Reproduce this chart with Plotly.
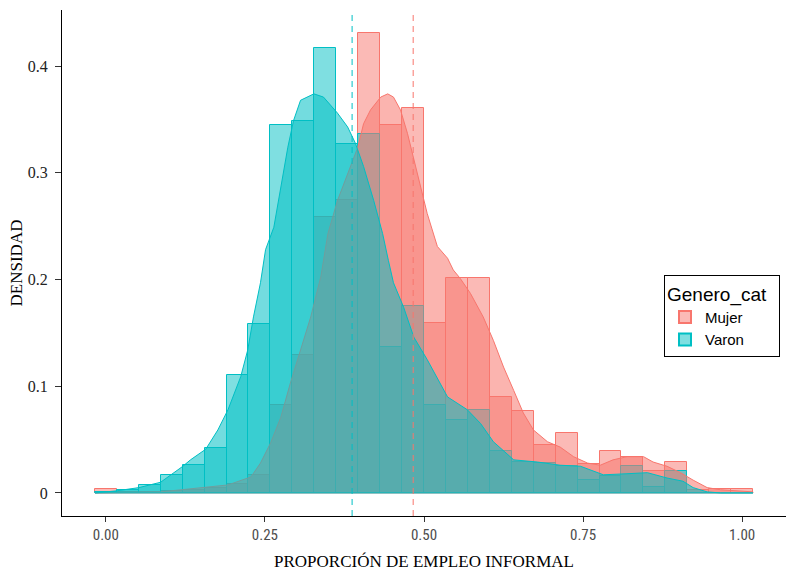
import plotly.graph_objects as go

# Histogram: 30 bins of width 1/29 centred on k/29 (k = 0..29)
n_bins = 30
bin_width = 1 / 29
bin_centers = [k / 29 for k in range(n_bins)]

mujer_hist = [0.0035, 0.001, 0.001, 0.002, 0.003, 0.005, 0.008, 0.017, 0.082, 0.129,
              0.259, 0.275, 0.431, 0.345, 0.361, 0.159, 0.201, 0.201, 0.090, 0.077,
              0.045, 0.056, 0.027, 0.039, 0.034, 0.021, 0.029, 0.003, 0.004, 0.004]
varon_hist = [0.001, 0.003, 0.007, 0.017, 0.026, 0.042, 0.111, 0.158, 0.345, 0.349,
              0.417, 0.327, 0.336, 0.137, 0.175, 0.082, 0.068, 0.078, 0.039, 0.029,
              0.028, 0.025, 0.012, 0.016, 0.025, 0.006, 0.021, 0.0, 0.0, 0.0]

# Kernel density curves
mujer_dens_x = [-0.017, 0.086, 0.192, 0.228, 0.243, 0.259, 0.275, 0.290, 0.306, 0.322,
                0.338, 0.349, 0.364, 0.380, 0.396, 0.405, 0.416, 0.432, 0.443, 0.452,
                0.463, 0.474, 0.484, 0.495, 0.505, 0.521, 0.537, 0.546, 0.557, 0.573,
                0.593, 0.609, 0.625, 0.641, 0.656, 0.672, 0.694, 0.714, 0.735, 0.757,
                0.777, 0.797, 0.819, 0.845, 0.860, 0.882, 0.903, 0.923, 0.945, 0.966,
                1.017]
mujer_dens_y = [0.000, 0.001, 0.0075, 0.015, 0.028, 0.047, 0.071, 0.103, 0.134, 0.165,
                0.203, 0.243, 0.274, 0.300, 0.324, 0.346, 0.359, 0.371, 0.374, 0.371,
                0.359, 0.337, 0.312, 0.287, 0.262, 0.231, 0.220, 0.209, 0.201, 0.187,
                0.165, 0.143, 0.118, 0.096, 0.075, 0.059, 0.048, 0.043, 0.034, 0.028,
                0.026, 0.031, 0.034, 0.034, 0.029, 0.025, 0.019, 0.012, 0.005, 0.003,
                0.001]

varon_dens_x = [-0.017, 0.017, 0.052, 0.086, 0.121, 0.133, 0.157, 0.176, 0.192, 0.212,
                0.223, 0.232, 0.243, 0.251, 0.264, 0.275, 0.286, 0.295, 0.306, 0.327,
                0.342, 0.364, 0.380, 0.392, 0.405, 0.421, 0.435, 0.444, 0.452, 0.468,
                0.484, 0.505, 0.537, 0.568, 0.589, 0.609, 0.641, 0.678, 0.714, 0.746,
                0.782, 0.819, 0.851, 0.882, 0.907, 0.923, 0.945, 0.966, 1.017]
varon_dens_y = [0.000, 0.002, 0.005, 0.010, 0.025, 0.031, 0.041, 0.059, 0.078, 0.109,
                0.134, 0.165, 0.197, 0.228, 0.249, 0.287, 0.324, 0.349, 0.368, 0.374,
                0.371, 0.356, 0.343, 0.328, 0.306, 0.274, 0.243, 0.218, 0.197, 0.174,
                0.146, 0.125, 0.090, 0.078, 0.065, 0.048, 0.031, 0.029, 0.026, 0.025,
                0.017, 0.018, 0.019, 0.014, 0.011, 0.005, 0.001, 0.000, 0.000]

# Group means (dashed reference lines)
mean_mujer = 0.483
mean_varon = 0.387

x_ticks = [0, 0.25, 0.5, 0.75, 1.0]
x_tick_labels = ["0.00", "0.25", "0.50", "0.75", "1.00"]
y_ticks = [0, 0.1, 0.2, 0.3, 0.4]
y_tick_labels = ["0", "0.1", "0.2", "0.3", "0.4"]

groups = ["Mujer", "Varon"]
colors = {"Mujer": (248, 118, 109), "Varon": (0, 191, 196)}

SERIF = "Liberation Serif, Times New Roman, serif"
SANS = "Liberation Sans, Arial, sans-serif"


def rgba(c, a):
    return f"rgba({c[0]},{c[1]},{c[2]},{a})"


fig = go.Figure()

for g, vals in zip(groups, [mujer_hist, varon_hist]):
    c = colors[g]
    fig.add_trace(go.Bar(
        x=bin_centers, y=vals, width=[bin_width] * n_bins, name=g,
        marker=dict(color=rgba(c, 0.5), line=dict(color=rgba(c, 1), width=1)),
        showlegend=True, hoverinfo="skip",
    ))

for g, dx, dy in [("Mujer", mujer_dens_x, mujer_dens_y),
                  ("Varon", varon_dens_x, varon_dens_y)]:
    c = colors[g]
    # close the polygon along the baseline so the outline runs along y = 0 too
    px = dx + [dx[-1], dx[0], dx[0]]
    py = dy + [0, 0, dy[0]]
    fig.add_trace(go.Scatter(
        x=px, y=py, mode="lines", fill="toself",
        fillcolor=rgba(c, 0.55), line=dict(color=rgba(c, 1), width=1),
        showlegend=False, hoverinfo="skip",
    ))

for g, m in [("Mujer", mean_mujer), ("Varon", mean_varon)]:
    fig.add_shape(type="line", xref="x", yref="paper", x0=m, x1=m, y0=0, y1=1,
                  line=dict(color=rgba(colors[g], 1), width=1, dash="6px,5px"))

fig.update_layout(
    width=788, height=575,
    margin=dict(l=62, r=2, t=10, b=59),
    paper_bgcolor="white", plot_bgcolor="white",
    barmode="overlay", bargap=0,
    legend=dict(
        title=dict(text="Genero_cat&nbsp;&nbsp;", font=dict(family=SANS, size=19, color="black")),
        font=dict(family=SANS, size=15, color="black"),
        x=0.8315, y=0.476, xanchor="left", yanchor="top",
        bgcolor="white", bordercolor="black", borderwidth=1,
        tracegroupgap=0, itemsizing="constant", itemwidth=30,
    ),
    xaxis=dict(
        range=[-0.0689, 1.0689], tickvals=x_ticks, ticktext=x_tick_labels,
        showgrid=False, zeroline=False, showline=True, linecolor="black", linewidth=1,
        ticks="outside", ticklen=5, tickcolor="#333333",
        tickfont=dict(family="Liberation Sans Narrow, Arial Narrow, Roboto Condensed, sans-serif",
                      size=15, color="#4D4D4D"),
        title=dict(text="PROPORCIÓN DE EMPLEO INFORMAL",
                   font=dict(family=SERIF, size=17, color="black"),
                   standoff=12),
    ),
    yaxis=dict(
        range=[-0.0216, 0.4526], tickvals=y_ticks, ticktext=y_tick_labels,
        showgrid=False, zeroline=False, showline=True, linecolor="black", linewidth=1,
        ticks="outside", ticklen=6, tickcolor="#333333", ticklabelstandoff=4,
        tickfont=dict(family=SERIF, size=16, color="#222222"),
        title=dict(text="DENSIDAD",
                   font=dict(family=SERIF, size=17, color="black"),
                   standoff=0),
    ),
)

fig.write_html("out.html")
